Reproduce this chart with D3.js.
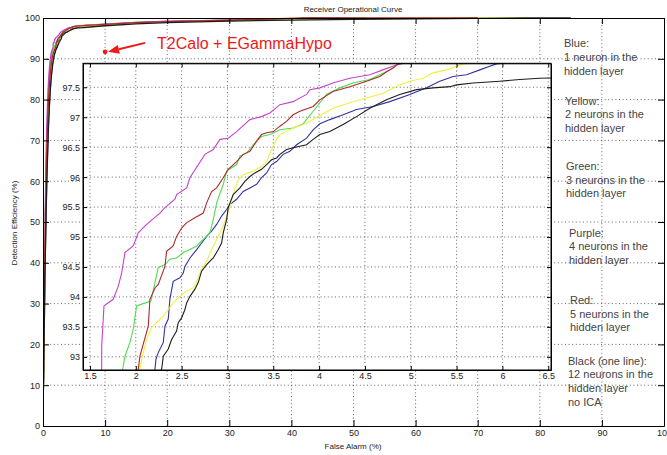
<!DOCTYPE html>
<html><head><meta charset="utf-8">
<script src="https://cdn.jsdelivr.net/npm/d3@7"></script>
<style>body{margin:0;background:#fff}svg{display:block}text{font-family:"Liberation Sans",Arial,sans-serif}</style>
</head><body><svg id="c" width="667" height="455"></svg>
<script>
// ---------- data ----------
const chartTitle = "Receiver Operational Curve";
const xLabel = "False Alarm (%)";
const yLabel = "Detection Efficiency (%)";
const mainXTicks = [0,10,20,30,40,50,60,70,80,90,100];
const mainYTicks = [0,10,20,30,40,50,60,70,80,90,100];
const insetXTicks = [1.5,2,2.5,3,3.5,4,4.5,5,5.5,6,6.5];
const insetYTicks = [93,93.5,94,94.5,95,95.5,96,96.5,97,97.5];
const insetXDomain = [1.424, 6.53];
const insetYDomain = [92.78, 97.9];

const seriesNames  = ["blue","green","purple","yellow","red","black"];
const seriesColors = ["#3232a0","#4fdc4f","#c444cc","#f0f040","#b0282a","#1e1e1e"];

const purplePts = [[0,4],[0.1,15],[0.2,30],[0.3,45],[0.4,57],[0.5,66],[0.6,73],[0.75,80],[0.9,85],[1.1,89],[1.3,91.3],[1.5,92.3],
 [1.628,92.79],[1.628,93.18],[1.653,93.85],[1.754,93.96],[1.809,94.18],[1.846,94.40],[1.882,94.74],[1.972,94.85],[2.027,95.07],[2.118,95.21],[2.263,95.40],[2.318,95.49],[2.427,95.63],[2.445,95.71],[2.555,95.82],[2.59,95.99],[2.754,96.38],[2.845,96.46],[2.918,96.63],[3.008,96.65],[3.10,96.76],[3.245,96.96],[3.372,97.01],[3.463,97.07],[3.572,97.21],[3.717,97.26],[3.863,97.38],[3.899,97.46],[4.008,97.49],[4.15,97.57],[4.335,97.65],[4.553,97.71],[4.695,97.79],[4.804,97.85],[4.88,97.89],
 [5.5,98.0],[7,98.2],[10,98.5],[15,98.9],[20,99.2],[30,99.5],[40,99.8],[45,100],[48,100]];

const redPts = [[0,6],[0.1,14],[0.2,27],[0.3,40],[0.4,52],[0.5,61],[0.65,70],[0.8,77],[1.0,83],[1.2,87],[1.4,89.5],[1.6,91],[1.8,92],
 [2.027,92.79],[2.045,93.01],[2.136,93.51],[2.154,93.96],[2.209,94.15],[2.245,94.21],[2.318,94.51],[2.336,94.76],[2.408,94.85],[2.445,95.01],[2.50,95.15],[2.555,95.24],[2.645,95.32],[2.736,95.40],[2.773,95.57],[2.827,95.76],[2.882,95.82],[2.954,95.99],[3.008,96.13],[3.10,96.26],[3.172,96.38],[3.245,96.43],[3.318,96.60],[3.372,96.71],[3.427,96.74],[3.50,96.76],[3.572,96.85],[3.645,96.93],[3.717,97.04],[3.79,97.10],[3.935,97.18],[4.008,97.29],[4.15,97.43],[4.335,97.51],[4.517,97.60],[4.662,97.68],[4.736,97.76],[4.808,97.82],[4.862,97.89],
 [5.5,98.0],[7,98.2],[10,98.45],[15,98.85],[20,99.1],[30,99.45],[42,100],[70,100]];

const greenPts = [[0,5],[0.1,13],[0.2,27],[0.3,41],[0.4,53],[0.5,62],[0.6,70],[0.75,77],[0.9,83],[1.1,87.5],[1.3,90],[1.5,91.6],[1.7,92.4],
 [1.857,92.79],[1.882,93.01],[1.936,93.24],[1.972,93.46],[2.009,93.85],[2.064,93.88],[2.165,93.93],[2.209,94.24],[2.245,94.49],[2.318,94.54],[2.372,94.63],[2.445,94.65],[2.518,94.74],[2.591,94.79],[2.664,94.85],[2.736,94.96],[2.809,95.07],[2.845,95.29],[2.882,95.57],[2.954,95.88],[2.991,96.10],[3.10,96.21],[3.136,96.35],[3.209,96.40],[3.281,96.54],[3.372,96.68],[3.463,96.71],[3.572,96.79],[3.717,96.82],[3.826,96.89],[3.935,97.10],[4.081,97.38],[4.226,97.49],[4.371,97.57],[4.553,97.63],[4.662,97.71],[4.771,97.79],[4.862,97.89],
 [5.5,98.05],[7,98.25],[10,98.5],[15,98.9],[20,99.15],[30,99.5],[40,99.75],[48,100],[52,100]];

const yellowPts = [[0,5],[0.1,12],[0.2,25],[0.3,38],[0.4,50],[0.55,60],[0.7,69],[0.85,76],[1.0,81],[1.2,85.5],[1.4,88.5],[1.6,90.5],[1.85,92],
 [2.045,92.79],[2.064,92.96],[2.118,93.29],[2.173,93.49],[2.227,93.57],[2.30,93.68],[2.354,93.79],[2.408,93.90],[2.481,94.01],[2.555,94.10],[2.627,94.15],[2.681,94.32],[2.718,94.46],[2.773,94.60],[2.827,94.79],[2.882,94.96],[2.954,95.18],[3.008,95.41],[3.063,95.71],[3.117,95.96],[3.172,96.04],[3.281,96.10],[3.372,96.18],[3.427,96.26],[3.481,96.46],[3.536,96.63],[3.572,96.71],[3.645,96.76],[3.717,96.82],[3.863,96.90],[4.008,97.03],[4.153,97.15],[4.335,97.24],[4.517,97.32],[4.698,97.40],[4.88,97.54],[4.99,97.60],[5.135,97.65],[5.244,97.74],[5.39,97.79],[5.499,97.85],[5.571,97.89],
 [7,98.1],[10,98.35],[15,98.75],[20,99.0],[30,99.35],[40,99.6],[55,99.85],[70,100],[78,100]];

const bluePts = [[0,4],[0.1,11],[0.2,23],[0.3,36],[0.45,49],[0.6,60],[0.75,68],[0.9,75],[1.1,81],[1.3,85.5],[1.5,88.5],[1.75,90.8],[2.0,92.2],
 [2.209,92.79],[2.22,92.96],[2.245,93.07],[2.30,93.24],[2.318,93.51],[2.354,93.63],[2.372,93.96],[2.408,94.26],[2.481,94.32],[2.518,94.40],[2.536,94.51],[2.591,94.65],[2.664,94.79],[2.718,94.90],[2.773,95.01],[2.827,95.10],[2.882,95.21],[2.936,95.35],[2.991,95.46],[3.027,95.54],[3.10,95.63],[3.172,95.76],[3.245,95.82],[3.318,95.88],[3.372,95.99],[3.427,96.07],[3.481,96.21],[3.536,96.26],[3.608,96.38],[3.681,96.43],[3.754,96.54],[3.863,96.65],[3.935,96.79],[4.008,96.89],[4.117,96.96],[4.262,97.04],[4.408,97.13],[4.59,97.18],[4.771,97.26],[4.99,97.38],[5.172,97.49],[5.317,97.60],[5.462,97.68],[5.608,97.71],[5.753,97.79],[5.862,97.85],[5.935,97.89],
 [7,98.05],[10,98.35],[15,98.8],[20,99.05],[30,99.4],[38,99.7],[44,100],[46,100]];

const blackPts = [[0,5],[0.1,12],[0.2,24],[0.3,36],[0.45,48],[0.6,59],[0.75,67],[0.9,74],[1.1,80.5],[1.3,85],[1.55,88.5],[1.8,90.8],[2.05,92.1],
 [2.282,92.79],[2.30,93.01],[2.354,93.13],[2.391,93.29],[2.445,93.43],[2.463,93.57],[2.50,93.65],[2.536,93.79],[2.555,93.90],[2.591,94.01],[2.645,94.13],[2.681,94.24],[2.718,94.43],[2.773,94.54],[2.845,94.65],[2.90,94.79],[2.936,94.90],[2.954,95.07],[2.991,95.29],[3.008,95.49],[3.063,95.71],[3.136,95.82],[3.19,95.93],[3.245,96.01],[3.30,96.07],[3.372,96.13],[3.427,96.21],[3.481,96.29],[3.536,96.32],[3.572,96.38],[3.645,96.46],[3.717,96.49],[3.863,96.54],[3.935,96.63],[4.008,96.71],[4.117,96.76],[4.262,96.88],[4.408,97.01],[4.553,97.15],[4.735,97.29],[4.88,97.38],[5.063,97.46],[5.244,97.49],[5.426,97.51],[5.499,97.54],[5.68,97.57],[5.971,97.60],[6.19,97.63],[6.407,97.65],[6.625,97.66],
 [8,97.85],[10,98.1],[15,98.55],[20,98.85],[30,99.25],[40,99.5],[50,99.65],[60,99.8],[70,99.9],[78,100],[85,100]];

const seriesPoints = [bluePts, greenPts, purplePts, yellowPts, redPts, blackPts];

const operatingPoint = [10, 91.7];
const annotationText = "T2Calo + EGammaHypo";

const legendTexts = [
  ["Blue:","1 neuron in the","hidden layer"],
  ["Yellow:","2 neurons in the","hidden layer"],
  ["Green:","3 neurons in the","hidden layer"],
  ["Purple:","4 neurons in the","hidden layer"],
  ["Red:","5 neurons in the","hidden layer"],
  ["Black (one line):","12 neurons in the","hidden layer","no ICA"]
];

// ---------- layout ----------
const svg = d3.select("#c");
const M = {l:43, r:664, t:18, b:426};
const I = {l:83, r:551, t:63.3, b:370};
const x = d3.scaleLinear([0,100],[M.l,M.r]);
const y = d3.scaleLinear([0,100],[M.b,M.t]);
const ix = d3.scaleLinear(insetXDomain,[I.l,I.r]);
const iy = d3.scaleLinear(insetYDomain,[I.b,I.t]);
const gridStyle = s => s.attr("stroke","#555").attr("stroke-width",0.9).attr("stroke-dasharray","1,2.6");

svg.append("rect").attr("width",667).attr("height",455).attr("fill","#fff");
const defs = svg.append("defs");
defs.append("clipPath").attr("id","cm").append("rect").attr("x",M.l).attr("y",M.t-1).attr("width",M.r-M.l).attr("height",M.b-M.t+1);
defs.append("clipPath").attr("id","ci").append("rect").attr("x",I.l).attr("y",I.t).attr("width",I.r-I.l).attr("height",I.b-I.t);

// title & labels
svg.append("text").attr("x",353).attr("y",12).attr("text-anchor","middle").attr("font-size",8).attr("fill","#222").text(chartTitle);
svg.append("text").attr("x",353).attr("y",448.5).attr("text-anchor","middle").attr("font-size",8).attr("fill","#222").text(xLabel);
svg.append("text").attr("transform","translate(17,223) rotate(-90)").attr("text-anchor","middle").attr("font-size",8).attr("fill","#222").text(yLabel);

// main grid
const g = svg.append("g");
g.selectAll(".gx").data(mainXTicks.filter(d=>d>0&&d<100)).join("line")
  .attr("x1",d=>x(d)).attr("x2",d=>x(d)).attr("y1",M.t).attr("y2",M.b).call(gridStyle);
g.selectAll(".gy").data(mainYTicks.filter(d=>d>0&&d<100)).join("line")
  .attr("y1",d=>y(d)).attr("y2",d=>y(d)).attr("x1",M.l).attr("x2",M.r).call(gridStyle);

// legend texts
const legendPos = [[564,47,14],[565,104.5,13.5],[566,170,13.5],[569,236.5,13.5],[570,304,13.5],[568,364.5,13.7]];
legendTexts.forEach((lines,i)=>{
  const [lx,ly,lh] = legendPos[i];
  lines.forEach((t,j)=>svg.append("text").attr("x",lx).attr("y",ly+j*lh).attr("font-size",11).attr("fill","#444").text(t));
});

// main curves
const lineMain = d3.line().x(d=>x(d[0])).y(d=>y(d[1]));
const gm = svg.append("g").attr("clip-path","url(#cm)");
seriesPoints.forEach((pts,i)=>gm.append("path").attr("d",lineMain(pts)).attr("fill","none")
  .attr("stroke",seriesColors[i]).attr("stroke-width",1.3));

// main axes
const tickStyle = s => { s.selectAll("text").attr("font-size",9).attr("fill","#222").attr("font-family","Liberation Sans, Arial, sans-serif");
  s.selectAll("line").attr("stroke","#000"); s.select(".domain").attr("stroke","#000"); };
svg.append("g").attr("transform",`translate(0,${M.b})`)
  .call(d3.axisBottom(x).tickValues(mainXTicks).tickFormat(d=>String(d)).tickSize(-6).tickSizeOuter(0).tickPadding(4)).call(tickStyle);
svg.append("g").attr("transform",`translate(${M.l},0)`)
  .call(d3.axisLeft(y).tickValues(mainYTicks).tickFormat(d=>String(d)).tickSize(-6).tickSizeOuter(0).tickPadding(3)).call(tickStyle);
svg.append("g").attr("transform",`translate(0,${M.t})`)
  .call(d3.axisTop(x).tickValues(mainXTicks).tickFormat("").tickSize(-6).tickSizeOuter(0)).call(tickStyle);
svg.append("g").attr("transform",`translate(${M.r},0)`)
  .call(d3.axisRight(y).tickValues(mainYTicks).tickFormat("").tickSize(-6).tickSizeOuter(0)).call(tickStyle);

// annotation
const px = x(operatingPoint[0]), py = y(operatingPoint[1]);
const tip = [px+3, py], tail = [px+40, py-9];
const dx = tip[0]-tail[0], dy = tip[1]-tail[1], L = Math.hypot(dx,dy), ux = dx/L, uy = dy/L;
const base = [tip[0]-ux*11, tip[1]-uy*11];
svg.append("line").attr("x1",tail[0]).attr("y1",tail[1]).attr("x2",base[0]).attr("y2",base[1]).attr("stroke","#f01818").attr("stroke-width",2);
svg.append("path").attr("d",`M${tip}L${base[0]-uy*4.5},${base[1]+ux*4.5}L${base[0]+uy*4.5},${base[1]-ux*4.5}Z`).attr("fill","#f01818");
svg.append("circle").attr("cx",px).attr("cy",py).attr("r",2.4).attr("fill","#f01818");
svg.append("text").attr("x",px+52).attr("y",py-2.5).attr("font-size",16).attr("fill","#f01818").text(annotationText);

// inset
svg.append("rect").attr("x",I.l).attr("y",I.t).attr("width",I.r-I.l).attr("height",I.b-I.t).attr("fill","#fff");
const gi = svg.append("g");
gi.selectAll(".ix").data(insetXTicks).join("line").attr("x1",d=>ix(d)).attr("x2",d=>ix(d)).attr("y1",I.t).attr("y2",I.b).call(gridStyle);
gi.selectAll(".iy").data(insetYTicks).join("line").attr("y1",d=>iy(d)).attr("y2",d=>iy(d)).attr("x1",I.l).attr("x2",I.r).call(gridStyle);
const lineInset = d3.line().x(d=>ix(d[0])).y(d=>iy(d[1]));
const gic = svg.append("g").attr("clip-path","url(#ci)");
seriesPoints.forEach((pts,i)=>gic.append("path").attr("d",lineInset(pts)).attr("fill","none")
  .attr("stroke",seriesColors[i]).attr("stroke-width",1.1));
svg.append("g").attr("transform",`translate(0,${I.b})`)
  .call(d3.axisBottom(ix).tickValues(insetXTicks).tickFormat(d=>String(d)).tickSize(-4).tickSizeOuter(0).tickPadding(3)).call(tickStyle);
svg.append("g").attr("transform",`translate(${I.l},0)`)
  .call(d3.axisLeft(iy).tickValues(insetYTicks).tickFormat(d=>String(d)).tickSize(-4).tickSizeOuter(0).tickPadding(3)).call(tickStyle);
svg.append("g").attr("transform",`translate(0,${I.t})`)
  .call(d3.axisTop(ix).tickValues(insetXTicks).tickFormat("").tickSize(-4).tickSizeOuter(0)).call(tickStyle);
svg.append("g").attr("transform",`translate(${I.r},0)`)
  .call(d3.axisRight(iy).tickValues(insetYTicks).tickFormat("").tickSize(-4).tickSizeOuter(0)).call(tickStyle);
svg.append("rect").attr("x",I.l).attr("y",I.t).attr("width",I.r-I.l).attr("height",I.b-I.t).attr("fill","none").attr("stroke","#000").attr("stroke-width",1);
</script></body></html>
